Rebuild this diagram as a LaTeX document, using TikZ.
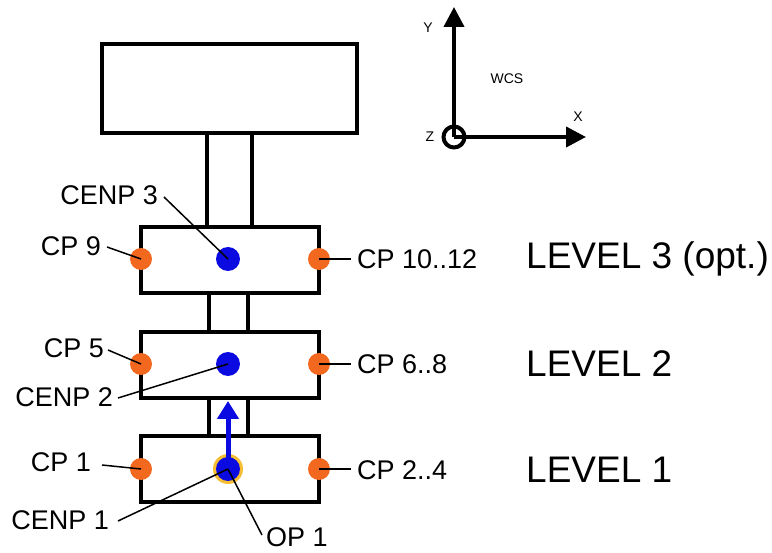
\documentclass[tikz,border=0pt]{standalone}
\usepackage{fontspec}
\setmainfont{Liberation Sans}
\usetikzlibrary{arrows.meta}
\definecolor{cporange}{RGB}{242,104,30}
\definecolor{cenblue}{RGB}{10,10,225}
\definecolor{opring}{RGB}{246,190,50}
\tikzset{
  part/.style={draw=black, line width=4pt, fill=white, inner sep=0pt},
  cpdot/.style={circle, fill=cporange, minimum size=22pt, inner sep=0pt},
  cendot/.style={circle, fill=cenblue, minimum size=24pt, inner sep=0pt},
  lbl/.style={inner sep=0pt, font=\fontsize{27}{31}\selectfont},
  lvl/.style={inner sep=0pt, anchor=west, font=\fontsize{37}{41}\selectfont},
  wcslbl/.style={inner sep=0pt, font=\fontsize{14}{16}\selectfont},
  leader/.style={draw=black, line width=1.5pt},
  axis/.style={line width=4pt, -{Triangle[width=20pt,length=20pt]}}
}
\begin{document}
\begin{tikzpicture}[x=1pt,y=-1pt]
\useasboundingbox (0,0) rectangle (772,553);
% stems
\node[part, minimum width=45pt, minimum height=94pt] (stemtop) at (229.5,180) {};
\node[part, minimum width=39pt, minimum height=39pt] (stem32) at (228.5,312.5) {};
\node[part, minimum width=39pt, minimum height=38pt] (stem21) at (228.5,417) {};
% boxes
\node[part, minimum width=255pt, minimum height=89pt] (top) at (229.5,88.5) {};
\node[part, minimum width=178pt, minimum height=66pt] (L3) at (230,260) {};
\node[part, minimum width=178pt, minimum height=66pt] (L2) at (230,365) {};
\node[part, minimum width=178pt, minimum height=66pt] (L1) at (230,469) {};
% dots
\node[cpdot] (cp9) at (141,259) {};
\node[cpdot] (cp10) at (319,259) {};
\node[cpdot] (cp5) at (141,364) {};
\node[cpdot] (cp6) at (319,364) {};
\node[cpdot] (cp1) at (141,469) {};
\node[cpdot] (cp2) at (319,469) {};
\node[cendot] (cenp3) at (228,259) {};
\node[cendot] (cenp2) at (228,364) {};
\node[circle, fill=opring, minimum size=30pt, inner sep=0pt] (op1) at (228,469) {};
\node[cendot] (cenp1) at (228,469) {};
% blue arrow
\coordinate (arrtip) at (228,401);
\draw[draw=cenblue, line width=5pt, -{Triangle[width=21pt,length=18pt]}, fill=cenblue] (cenp1.center) -- (arrtip);
% labels
\node[lbl, anchor=east] (tcenp3) at (158,195) {CENP 3};
\node[lbl, anchor=east] (tcp9) at (101,246) {CP 9};
\node[lbl, anchor=west] (tcp10) at (357,259) {CP 10..12};
\node[lbl, anchor=east] (tcp5) at (104,348) {CP 5};
\node[lbl, anchor=east] (tcenp2) at (113,397) {CENP 2};
\node[lbl, anchor=west] (tcp6) at (357,364) {CP 6..8};
\node[lbl, anchor=east] (tcp1) at (91,462) {CP 1};
\node[lbl, anchor=east] (tcenp1) at (109,520) {CENP 1};
\node[lbl, anchor=west] (top1) at (266,537) {OP 1};
\node[lbl, anchor=west] (tcp2) at (357,470) {CP 2..4};
\node[lvl] (lv3) at (526,259) {LEVEL 3 (opt.)};
\node[lvl] (lv2) at (526,364) {LEVEL 2};
\node[lvl] (lv1) at (526,470) {LEVEL 1};
% leaders
\coordinate (a3) at (164,197);
\coordinate (a9) at (107,247);
\coordinate (a10) at (351,259);
\coordinate (a5) at (108,350);
\coordinate (a2) at (118,398);
\coordinate (a6) at (351,364);
\coordinate (a1) at (102,465);
\coordinate (ac1) at (118,521);
\coordinate (aop) at (262,535);
\coordinate (a24) at (351,469);
\draw[leader] (a3) -- (cenp3.center);
\draw[leader] (a9) -- (cp9.center);
\draw[leader] (a10) -- (cp10.center);
\draw[leader] (a5) -- (cp5.center);
\draw[leader] (a2) -- (cenp2.center);
\draw[leader] (a6) -- (cp6.center);
\draw[leader] (a1) -- (cp1.center);
\draw[leader] (ac1) -- (cenp1.center);
\draw[leader] (aop) -- (cenp1.center);
\draw[leader] (a24) -- (cp2.center);
% WCS
\node[circle, draw=black, line width=4pt, minimum size=21pt, inner sep=0pt] (origin) at (454,137) {};
\coordinate (ytip) at (454,7);
\coordinate (xtip) at (586,137);
\draw[axis] (origin.center) -- (ytip);
\draw[axis] (origin.center) -- (xtip);
\node[wcslbl] (ty) at (428,28) {Y};
\node[wcslbl] (tx) at (578,117) {X};
\node[wcslbl] (tz) at (430,137) {Z};
\node[wcslbl] (twcs) at (507,79) {WCS};
\end{tikzpicture}
\end{document}
